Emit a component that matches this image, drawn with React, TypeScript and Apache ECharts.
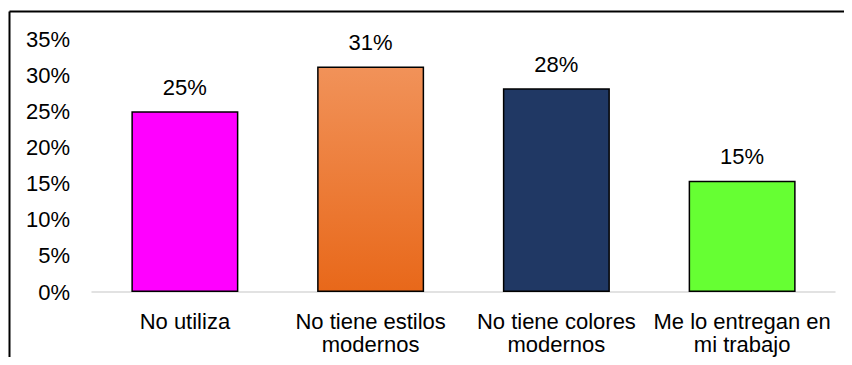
import React, { useEffect, useRef } from "react";
import * as echarts from "echarts";

const categories = ["No utiliza", "No tiene estilos\nmodernos", "No tiene colores\nmodernos", "Me lo entregan en\nmi trabajo"];
const values = [25, 31.2, 28.2, 15.4];
const yTicks = [0, 5, 10, 15, 20, 25, 30, 35];

const barColors: any[] = [
  "#FF00FF",
  new echarts.graphic.LinearGradient(0, 0, 0, 1, [
    { offset: 0, color: "#F19259" },
    { offset: 1, color: "#E8681A" },
  ]),
  "#203864",
  "#66FF33",
];

export default function App() {
  const ref = useRef<HTMLDivElement>(null);
  useEffect(() => {
    if (!ref.current) return;
    const chart = echarts.init(ref.current, null, { renderer: "svg" });
    const font = "Liberation Sans, Arial, sans-serif";
    chart.setOption({
      animation: false,
      backgroundColor: "#ffffff",
      grid: { left: 92, right: 17, top: 39, bottom: 73 },
      xAxis: {
        type: "category",
        data: categories,
        axisLine: { show: true, lineStyle: { color: "#D9D9D9", width: 1.5 } },
        axisTick: { show: false },
        axisLabel: {
          color: "#000",
          fontSize: 22,
          fontFamily: font,
          lineHeight: 23,
          margin: 18,
          interval: 0,
          align: "center",
        },
      },
      yAxis: {
        type: "value",
        min: yTicks[0],
        max: yTicks[yTicks.length - 1],
        interval: 5,
        splitLine: { show: false },
        axisLine: { show: false },
        axisTick: { show: false },
        axisLabel: {
          color: "#000",
          fontSize: 22,
          fontFamily: font,
          margin: 22,
          formatter: (v: number) => `${v}%`,
        },
      },
      series: [
        {
          type: "bar",
          data: values.map((v, i) => ({
            value: v,
            itemStyle: { color: barColors[i] },
          })),
          barWidth: 107,
          itemStyle: { borderColor: "#000", borderWidth: 1.5 },
          label: {
            show: true,
            position: "top",
            distance: 13,
            color: "#000",
            fontSize: 22,
            fontFamily: font,
            formatter: (p: any) => `${Math.round(p.value)}%`,
          },
        },
      ],
      graphic: [
        { type: "line", shape: { x1: 9.5, y1: 11.5, x2: 852, y2: 11.5 }, style: { stroke: "#000", lineWidth: 2 } },
        { type: "line", shape: { x1: 9.5, y1: 11.5, x2: 9.5, y2: 365 }, style: { stroke: "#000", lineWidth: 2 } },
      ],
    });
    return () => chart.dispose();
  }, []);
  return (
    <div style={{ margin: -8 }}>
      <div ref={ref} style={{ width: 852, height: 365 }} />
    </div>
  );
}
